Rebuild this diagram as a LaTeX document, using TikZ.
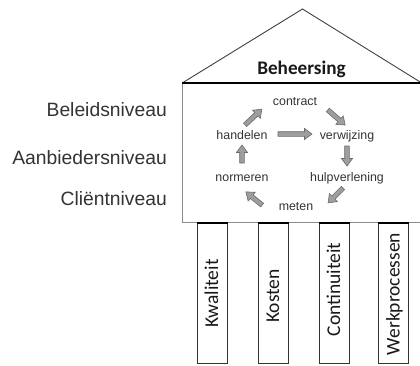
\documentclass[tikz,border=0pt]{standalone}
\usepackage{fontspec}
\setmainfont{Liberation Sans}
\newfontfamily\calibri{Carlito}
\begin{document}
\begin{tikzpicture}[x=1pt,y=-1pt,
  roof/.style={draw=black!75, line width=0.9pt, line join=miter},
  beam/.style={draw=black, line width=2pt},
  wall/.style={draw=black!45, line width=0.8pt},
  pillar/.style={draw=black!80, line width=1pt},
  level/.style={anchor=base east, inner sep=0pt, text=black!80,
    font=\fontsize{19.3}{22}\selectfont},
  cyc/.style={anchor=base, inner sep=0pt, text=black!80,
    font=\fontsize{12.4}{14}\selectfont},
  pillartext/.style={anchor=base, rotate=90, inner sep=0pt, text=black!90,
    font=\calibri\fontsize{19.5}{22}\selectfont},
  arrowfill/.style={fill=black!38, draw=black!58, line width=0.6pt, line join=miter},
  pics/blockarrow/.style={code={
    \path[arrowfill] (-#1/2,-2.3) -- (#1/2-7.5,-2.3) -- (#1/2-7.5,-5.6) -- (#1/2,0)
      -- (#1/2-7.5,5.6) -- (#1/2-7.5,2.3) -- (-#1/2,2.3) -- cycle;}}
]
\useasboundingbox (0,0) rectangle (420,365);

% roof
\draw[roof] (183,82.5) -- (302.5,9) -- (421,82.5);
\node[anchor=base, inner sep=0pt, text=black!90,
  font=\calibri\bfseries\fontsize{19.2}{22}\selectfont] (beheersing) at (301.5,74) {Beheersing};

% main block
\draw[wall] (182,83) -- (182,222.3) -- (422,222.3);
\draw[beam] (182,83) -- (422,83);

% pillars
\foreach \px/\nm in {197/p1, 258/p2, 319/p3, 378.5/p4}{
  \draw[pillar] (\px,223) rectangle (\px+30,363);
  \draw[beam] (\px-0.5,223.3) -- (\px+30.5,223.3);
}
\node[pillartext] (kwaliteit) at (218,293.5) {Kwaliteit};
\node[pillartext] (kosten) at (279,296) {Kosten};
\node[pillartext] (continuiteit) at (340,289.5) {Continuiteit};
\node[pillartext] (werkprocessen) at (399.7,294) {Werkprocessen};

% levels
\node[level] (beleid) at (167,116.5) {Beleidsniveau};
\node[level] (aanbieder) at (167,164) {Aanbiedersniveau};
\node[level] (client) at (167,205) {Cliëntniveau};

% cycle
\node[cyc] (contract) at (295,105) {contract};
\node[cyc] (handelen) at (242,139) {handelen};
\node[cyc] (verwijzing) at (347,139) {verwijzing};
\node[cyc] (hulpverlening) at (347,181.5) {hulpverlening};
\node[cyc] (normeren) at (242,181.5) {normeren};
\node[cyc] (meten) at (296,210.5) {meten};

\pic[rotate=0] at (295,134) {blockarrow=34};
\pic[rotate=-41] at (336.5,117.5) {blockarrow=23};
\pic[rotate=-90] at (347,156) {blockarrow=20};
\pic[rotate=-135] at (335.5,195.5) {blockarrow=21};
\pic[rotate=141] at (254,198.5) {blockarrow=21};
\pic[rotate=90] at (242,154) {blockarrow=18};
\pic[rotate=43] at (253.5,117) {blockarrow=23};
\end{tikzpicture}
\end{document}
